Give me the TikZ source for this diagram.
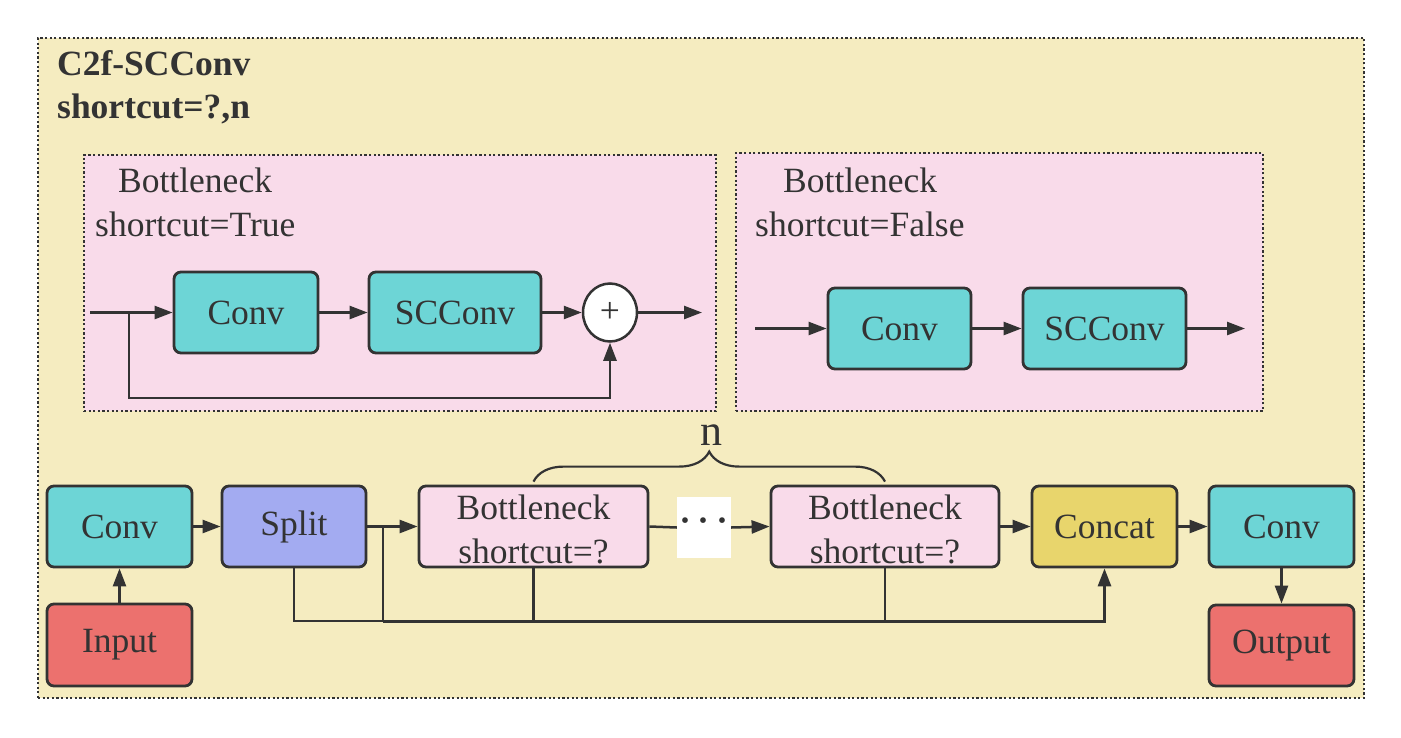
\documentclass[tikz,border=0pt]{standalone}
\usepackage{fontspec}
\setmainfont{Liberation Serif}
\usetikzlibrary{arrows.meta,shapes.geometric,decorations.pathreplacing,calc}
\definecolor{bgyellow}{HTML}{F5ECC0}
\definecolor{pinkbg}{HTML}{F9DBEA}
\definecolor{tealc}{HTML}{6DD5D6}
\definecolor{redc}{HTML}{EC716E}
\definecolor{purplec}{HTML}{A3ABF1}
\definecolor{concatc}{HTML}{E8D56C}
\definecolor{ink}{HTML}{333333}
\newcommand\boxfont{\fontsize{35.5}{44}\selectfont}
\newcommand\titlefont{\fontsize{35.5}{44}\selectfont\bfseries}
\begin{document}
\begin{tikzpicture}[x=1pt,y=-1pt,
 blk/.style={draw=ink, line width=2.8pt, rounded corners=7pt, inner sep=0pt, font=\boxfont, text=ink, align=center},
 frame/.style={draw=ink, line width=2.4pt, dash pattern=on 2.2pt off 2.4pt, inner sep=0pt},
 arr/.style={draw=ink, line width=2.5pt, -{Triangle[length=18pt,width=13pt]}},
 ln/.style={draw=ink, line width=2.5pt},
 lbl/.style={font=\boxfont, text=ink, inner sep=0pt, anchor=base west}]
\useasboundingbox (0,0) rectangle (1401,737);
\fill[white] (0,0) rectangle (1401,737);

% frames
\node[frame, fill=bgyellow, minimum width=1326pt, minimum height=660pt] (outer) at (701,368) {};
\node[frame, fill=pinkbg, minimum width=632pt, minimum height=256pt] (pinkA) at (400,283) {};
\node[frame, fill=pinkbg, minimum width=527pt, minimum height=258pt] (pinkB) at (999.5,282) {};

% titles
\node[font=\titlefont, text=ink, inner sep=0pt, anchor=base west] (title1) at (57,75) {C2f-SCConv};
\node[font=\titlefont, text=ink, inner sep=0pt, anchor=base west] (title2) at (57,118) {shortcut=?,n};
\node[lbl] (laA1) at (118,192) {Bottleneck};
\node[lbl] (laA2) at (95,236) {shortcut=True};
\node[lbl] (laB1) at (783,192) {Bottleneck};
\node[lbl] (laB2) at (755,236) {shortcut=False};

% bottleneck True
\node[blk, fill=tealc, minimum width=144pt, minimum height=81pt] (convA) at (246,312.5) {Conv};
\node[blk, fill=tealc, minimum width=172pt, minimum height=81pt] (sccA) at (455,312.5) {SCConv};
\node[draw=ink, line width=2.5pt, fill=white, ellipse, minimum width=54pt, minimum height=58pt, inner sep=0pt, font=\boxfont, text=ink] (plus) at (610,312.5) {+};
\coordinate (inA) at (90,312.5);
\coordinate (brA) at (129,312.5);
\coordinate (lpA) at (129,398);
\coordinate (outA) at (702,312.5);
\draw[arr] (inA) -- (convA.west);
\draw[arr] (convA.east) -- (sccA.west);
\draw[arr] (sccA.east) -- (plus.west);
\draw[arr] (plus.east) -- (outA);
\draw[arr] (brA) -- (lpA) -| (plus.south);

% bottleneck False
\node[blk, fill=tealc, minimum width=143pt, minimum height=81pt] (convB) at (899.5,328.5) {Conv};
\node[blk, fill=tealc, minimum width=163pt, minimum height=81pt] (sccB) at (1104.5,328.5) {SCConv};
\coordinate (inB) at (755,328.5);
\coordinate (outB) at (1245,328.5);
\draw[arr] (inB) -- (convB.west);
\draw[arr] (convB.east) -- (sccB.west);
\draw[arr] (sccB.east) -- (outB);

% main row
\node[blk, fill=tealc, minimum width=145pt, minimum height=81pt] (conv1) at (119.5,526.5) {Conv};
\node[blk, fill=redc, minimum width=145pt, minimum height=82pt] (input) at (119.5,645) {Input};
\node[blk, fill=purplec, minimum width=144pt, minimum height=81pt] (split) at (294,526.5) {Split};
\node[blk, fill=pinkbg, minimum width=229pt, minimum height=81pt] (bn1) at (533.5,526.5) {\rule{0pt}{30pt}Bottleneck\\shortcut=?};
\node[fill=white, minimum width=50pt, minimum height=61pt, inner sep=0pt, text=ink, font=\fontsize{48}{48}\selectfont] (dots) at (704,527.5) {\raisebox{-3pt}{·\hspace{3pt}·\hspace{3pt}·}};
\node[blk, fill=pinkbg, minimum width=228pt, minimum height=81pt] (bn2) at (885,526.5) {\rule{0pt}{30pt}Bottleneck\\shortcut=?};
\node[blk, fill=concatc, minimum width=145pt, minimum height=81pt] (concat) at (1104.5,526.5) {Concat};
\node[blk, fill=tealc, minimum width=145pt, minimum height=81pt] (conv2) at (1281.5,526.5) {Conv};
\node[blk, fill=redc, minimum width=145pt, minimum height=81pt] (output) at (1281.5,645.5) {Output};

\draw[arr] (input.north) -- (conv1.south);
\draw[arr] (conv1.east) -- (split.west);
\draw[arr] (split.east) -- (bn1.west);
\draw[ln] (bn1.east) -- (dots.west);
\draw[arr] (dots.east) -- (bn2.west);
\draw[arr] (bn2.east) -- (concat.west);
\draw[arr] (concat.east) -- (conv2.west);
\draw[arr] (conv2.south) -- (output.north);

\coordinate (sb) at (383,526.5);
\coordinate (busend) at (1104.5,621);
\draw[ln] (split.south) |- (sb |- busend);
\draw[ln] (sb) -- (sb |- busend);
\draw[ln] (bn1.south) -- (bn1.south |- busend);
\draw[ln] (bn2.south) -- (bn2.south |- busend);
\draw[arr, line width=3pt] (sb |- busend) -- (busend) -- (concat.south);

% brace
\draw[ln, line width=2.2pt, decorate, decoration={brace, amplitude=30pt}] ($(bn1.north)+(0,-3)$) -- ($(bn2.north)+(0,-3)$);
\node[font=\fontsize{44}{44}\selectfont, text=ink, inner sep=0pt, anchor=base] (nlabel) at (711,445) {n};
\end{tikzpicture}
\end{document}
